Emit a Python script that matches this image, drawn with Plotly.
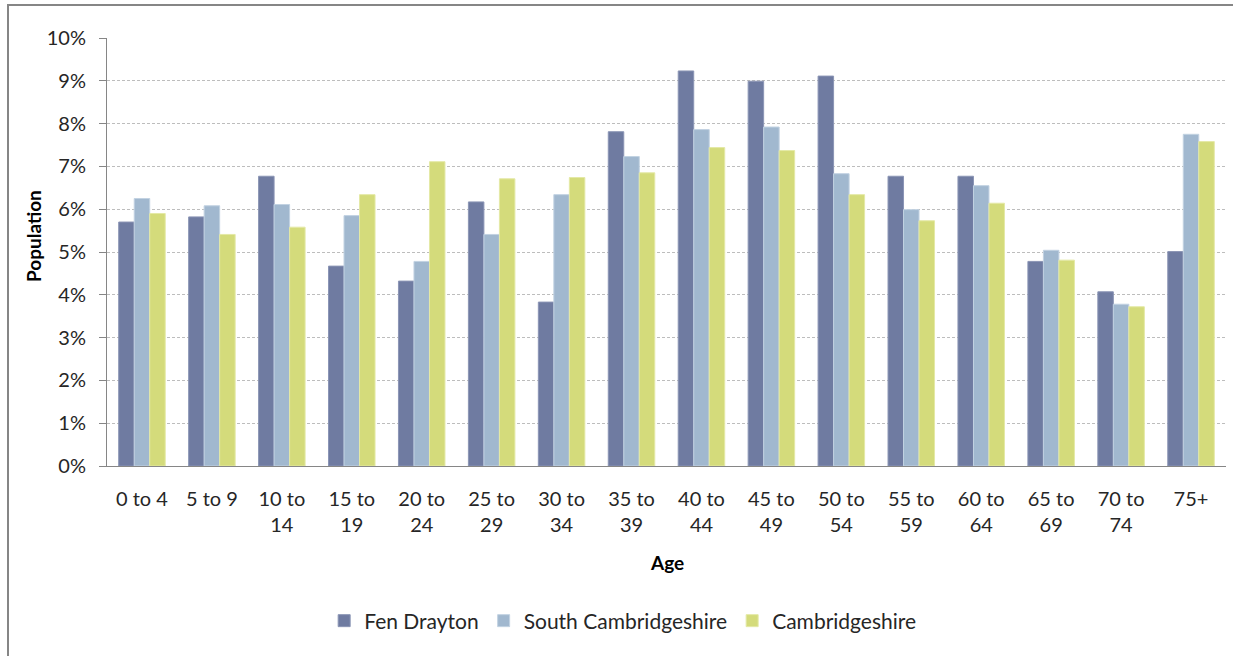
import plotly.graph_objects as go

# Age bands and population share (%) per area
age_bands = ["0 to 4", "5 to 9", "10 to<br>14", "15 to<br>19", "20 to<br>24", "25 to<br>29",
             "30 to<br>34", "35 to<br>39", "40 to<br>44", "45 to<br>49", "50 to<br>54",
             "55 to<br>59", "60 to<br>64", "65 to<br>69", "70 to<br>74", "75+"]
fen_drayton = [5.70, 5.82, 6.77, 4.67, 4.32, 6.17, 3.83, 7.81, 9.23, 8.99, 9.11,
               6.77, 6.77, 4.78, 4.07, 5.01]
south_cambs = [6.25, 6.08, 6.11, 5.85, 4.78, 5.41, 6.34, 7.23, 7.86, 7.92, 6.83,
               5.99, 6.55, 5.04, 3.78, 7.75]
cambridgeshire = [5.90, 5.41, 5.58, 6.34, 7.11, 6.71, 6.74, 6.85, 7.44, 7.37, 6.34,
                  5.73, 6.14, 4.81, 3.72, 7.58]

y_ticks = list(range(0, 11))
y_tick_text = [f"{v}%" for v in y_ticks]

W, H = 1233, 656
# plot area in pixels
PX0, PX1, PY0, PY1 = 107, 1226, 38, 466

FONT = "Lato, 'Noto Sans', sans-serif"
TXT = "#262626"
FS = 20

series = [
    ("Fen Drayton", fen_drayton, "#6f7ba1", "#8b95b5"),
    ("South Cambridgeshire", south_cambs, "#a1b8cf", "#c2d2e2"),
    ("Cambridgeshire", cambridgeshire, "#d4db7b", "#e4e9a6"),
]

fig = go.Figure()
for name, vals, col, edge in series:
    fig.add_trace(go.Bar(
        x=age_bands, y=vals, name=name,
        marker=dict(color=col, line=dict(color=edge, width=1)),
    ))

fig.update_layout(
    width=W, height=H,
    margin=dict(l=0, r=0, t=0, b=0, pad=0, autoexpand=False),
    paper_bgcolor="white", plot_bgcolor="white",
    barmode="group", bargap=0.335, bargroupgap=0,
    font=dict(family=FONT, size=FS, color=TXT),
    showlegend=True,
    legend=dict(orientation="h", x=0.505, xanchor="center", y=(H - 621) / H, yanchor="middle",
                font=dict(size=21, color=TXT), traceorder="normal",
                itemwidth=30),
    xaxis=dict(
        domain=[PX0 / W, PX1 / W], automargin=False,
        showline=True, linecolor="#868686", linewidth=1,
        ticks="", showgrid=False, tickfont=dict(size=FS, color=TXT),
        ticklabelstandoff=15,
    ),
    yaxis=dict(
        domain=[(H - PY1) / H, (H - PY0) / H], automargin=False,
        range=[0, 10], tickvals=y_ticks, ticktext=y_tick_text,
        showline=True, linecolor="#868686", linewidth=1,
        ticks="outside", ticklen=7, tickcolor="#868686",
        showgrid=True, gridcolor="#bdbdbd", griddash="3px,2px", gridwidth=1,
        zeroline=False, tickfont=dict(size=FS, color=TXT),
        ticklabelstandoff=9,
    ),
    annotations=[
        dict(text="<b>Age</b>", x=(PX0 + PX1) / 2 / W, y=(H - 562) / H, xref="paper", yref="paper",
             showarrow=False, font=dict(size=FS - 1, color="#000000"), xanchor="center", yanchor="middle"),
        dict(text="<b>Population</b>", x=33 / W, y=(H - 236) / H, xref="paper", yref="paper",
             showarrow=False, textangle=-90, font=dict(size=FS - 1, color="#000000"),
             xanchor="center", yanchor="middle"),
    ],
    shapes=[
        dict(type="rect", xref="paper", yref="paper", x0=8 / W, x1=1245 / W,
             y0=-10 / H, y1=(H - 5) / H, line=dict(color="#868686", width=2),
             fillcolor="rgba(0,0,0,0)", layer="below"),
    ],
)

fig.write_html("out.html")
